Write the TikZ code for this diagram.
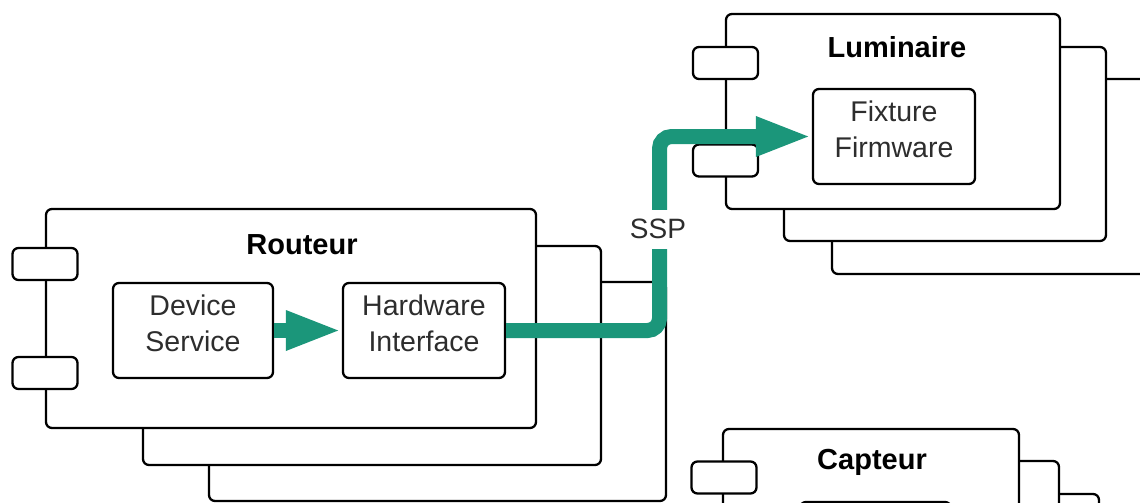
\documentclass[tikz,border=0pt]{standalone}
\usepackage{fontspec}
\setmainfont{Liberation Sans}
\usetikzlibrary{arrows.meta}
\definecolor{flowgreen}{RGB}{27,150,122}
\definecolor{txtgray}{RGB}{45,45,45}
\newcommand{\mylines}[2]{\raisebox{-2.5pt}[0pt][0pt]{\begin{tabular}{@{}c@{}}#1\\#2\end{tabular}}}
\begin{document}
\begin{tikzpicture}[x=1pt,y=-1pt,
  comp/.style={draw, line width=2.3pt, rounded corners=6pt, fill=white, inner sep=0pt},
  port/.style={draw, line width=2.3pt, rounded corners=6pt, fill=white, inner sep=0pt, minimum width=65pt, minimum height=32pt},
  part/.style={draw, line width=2.3pt, rounded corners=6pt, fill=white, inner sep=0pt, text=txtgray, font=\fontsize{28.5}{36}\selectfont},
  title/.style={font=\fontsize{29}{32}\selectfont\bfseries, text=black, inner sep=0pt},
  flow/.style={line width=15pt, draw=flowgreen, -{Triangle[length=56pt,width=36pt]}}
]
\useasboundingbox (0,0) rectangle (1140,503);
\clip (0,0) rectangle (1140,503);

% Routeur stack
\node[comp, minimum width=457pt, minimum height=219pt] (r3) at (437.5,391.5) {};
\node[comp, minimum width=458pt, minimum height=219pt] (r2) at (372,355.5) {};
\node[comp, minimum width=490pt, minimum height=219pt] (r1) at (291,318.5) {};
\node[port] (rp1) at (45,264) {};
\node[port] (rp2) at (45,373) {};
\node[title] (rt) at (302,245) {Routeur};
\node[part, minimum width=160pt, minimum height=95pt] (ds) at (193,330.5) {\mylines{Device}{Service}};
\node[part, minimum width=162pt, minimum height=95pt] (hw) at (424,330.5) {\mylines{Hardware}{Interface}};

% Luminaire stack
\node[comp, minimum width=328pt, minimum height=195pt] (l3) at (996,176.5) {};
\node[comp, minimum width=322pt, minimum height=194pt] (l2) at (945,144) {};
\node[comp, minimum width=334pt, minimum height=195pt] (l1) at (893,111.5) {};
\node[port] (lp1) at (725.5,63) {};
\node[port] (lp2) at (725.5,160.5) {};
\node[title] (lt) at (897,47) {Luminaire};
\node[part, minimum width=162pt, minimum height=95pt] (ff) at (894,136.5) {\mylines{Fixture}{Firmware}};

% Capteur stack
\node[comp, minimum width=270pt, minimum height=195pt] (c3) at (964,591.5) {};
\node[comp, minimum width=278pt, minimum height=195pt] (c2) at (920,558.5) {};
\node[comp, minimum width=296pt, minimum height=195pt] (c1) at (871,526.5) {};
\node[port] (cp1) at (724,477.5) {};
\node[title] (ct) at (872,462) {Capteur};
\node[part, minimum width=151pt, minimum height=95pt] (cs) at (875.5,549.5) {};

% Flows
\draw[flow] (ds.east) -- (hw.west);
\draw[flow, rounded corners=12pt] (hw.east) -- (659.5,330.5) -- (659.5,136.5) -- (ff.west);
\node[fill=white, inner sep=0pt, minimum height=39pt, minimum width=62pt, text=txtgray, font=\fontsize{28}{30}\selectfont] (ssp) at (658,229) {SSP};
\end{tikzpicture}
\end{document}
